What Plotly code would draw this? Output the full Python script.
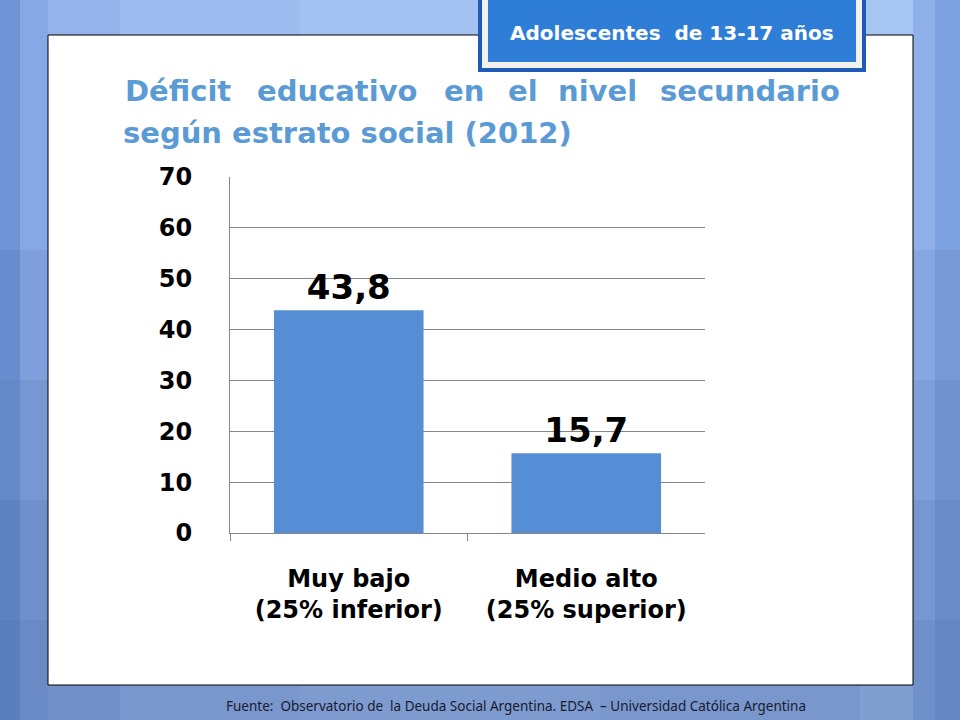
import plotly.graph_objects as go

# data
categories = ["Muy bajo<br>(25% inferior)", "Medio alto<br>(25% superior)"]
values = [43.8, 15.7]
y_ticks = [0, 10, 20, 30, 40, 50, 60, 70]

title_line1 = ["Déficit", "educativo", "en", "el", "nivel", "secundario"]
title_line2 = "según estrato social (2012)"
badge_text = "Adolescentes  de 13-17 años"
source_text = "Fuente:  Observatorio de  la Deuda Social Argentina. EDSA  – Universidad Católica Argentina"

W, H = 960, 720
BAR_BLUE = "#558ed5"
TITLE_BLUE = "#5b9bd5"
FONT = "DejaVu Sans"

def px(x):
    return x / W

def py(y):
    return 1 - y / H

fig = go.Figure()
fig.add_trace(go.Bar(
    x=categories, y=values,
    marker=dict(color=BAR_BLUE, line=dict(width=0)),
    width=0.63,
    texttemplate="%{y:.1f}", textposition="outside",
    textfont=dict(family=FONT, size=34, color="black", weight="bold"),
    cliponaxis=False,
))

shapes = []
# slide background: vertical bands of blue
bands = [(0, 20, "#6f95d6"), (20, 48, "#86a8e4"), (48, 120, "#93b3ea"), (120, 300, "#9dbcef"),
         (300, 600, "#a3c1f1"), (600, 860, "#9fbdef"), (860, 913, "#a7c5f3"), (913, 935, "#8fb0e8"),
         (935, 960, "#7ea2df")]
for x0, x1, c in bands:
    shapes.append(dict(type="rect", xref="paper", yref="paper", x0=px(x0), x1=px(x1), y0=0, y1=1,
                       fillcolor=c, line=dict(width=0), layer="below"))
# darker, greyer lower part (stepped gradient)
for y_top in [250, 380, 500, 620]:
    shapes.append(dict(type="rect", xref="paper", yref="paper", x0=0, x1=1, y0=0, y1=py(y_top),
                       fillcolor="rgba(55,85,145,0.1)", line=dict(width=0), layer="below"))
# white panel
shapes.append(dict(type="rect", xref="paper", yref="paper", x0=px(48), x1=px(913), y0=py(685), y1=py(35),
                   fillcolor="white", line=dict(color="black", width=1), layer="below"))
# badge
shapes.append(dict(type="rect", xref="paper", yref="paper", x0=px(478), x1=px(866), y0=py(72), y1=py(-5),
                   fillcolor="#1e5bb8", line=dict(width=0)))
shapes.append(dict(type="rect", xref="paper", yref="paper", x0=px(482), x1=px(862), y0=py(68), y1=py(-5),
                   fillcolor="#f2f2f2", line=dict(width=0)))
shapes.append(dict(type="rect", xref="paper", yref="paper", x0=px(488), x1=px(856), y0=py(62), y1=py(-5),
                   fillcolor="#2e7ed8", line=dict(width=0)))

annotations = []
annotations.append(dict(text=badge_text, x=px(672), y=py(33), xref="paper", yref="paper",
                        xanchor="center", yanchor="middle", showarrow=False,
                        font=dict(family=FONT, size=20, color="white", weight="bold")))
# title line 1, justified word by word (last word flush right)
word_x = [123, 255, 442, 506, 556, 842]
for i, (w, x) in enumerate(zip(title_line1, word_x)):
    annotations.append(dict(text=w, x=px(x), y=py(91), xref="paper", yref="paper",
                            xanchor="right" if i == len(title_line1) - 1 else "left",
                            yanchor="middle", showarrow=False,
                            font=dict(family=FONT, size=29, color=TITLE_BLUE, weight="bold")))
annotations.append(dict(text=title_line2, x=px(121), y=py(133), xref="paper", yref="paper",
                        xanchor="left", yanchor="middle", showarrow=False,
                        font=dict(family=FONT, size=29, color=TITLE_BLUE, weight="bold")))
annotations.append(dict(text=source_text, x=px(516), y=py(706), xref="paper", yref="paper",
                        xanchor="center", yanchor="middle", showarrow=False,
                        font=dict(family="Noto Sans", size=13.5, color="#1a1a2e")))

fig.update_layout(
    width=W, height=H,
    margin=dict(l=0, r=0, t=0, b=0, pad=0),
    paper_bgcolor="#9dbcef", plot_bgcolor="white",
    showlegend=False,
    separators=",.",
    bargap=0.37,
    shapes=shapes,
    annotations=annotations,
    xaxis=dict(domain=[px(230), px(705)], showline=True, linecolor="#868686", linewidth=1,
               ticks="outside", tickson="boundaries", ticklen=7, tickcolor="#868686",
               ticklabelstandoff=24, automargin=False,
               tickfont=dict(family=FONT, size=24, color="black", weight="bold"),
               showgrid=False),
    yaxis=dict(domain=[py(533), py(177)], range=[0, 70], tickvals=y_ticks,
               showline=True, linecolor="#868686", linewidth=1,
               gridcolor="#868686", gridwidth=1, zeroline=False,
               ticklabelstandoff=32, automargin=False,
               tickfont=dict(family=FONT, size=24, color="black", weight="bold")),
)

fig.write_html("out.html", config={"responsive": False, "displayModeBar": False},
               post_script="document.body.style.margin='0';document.body.style.overflow='hidden';")
